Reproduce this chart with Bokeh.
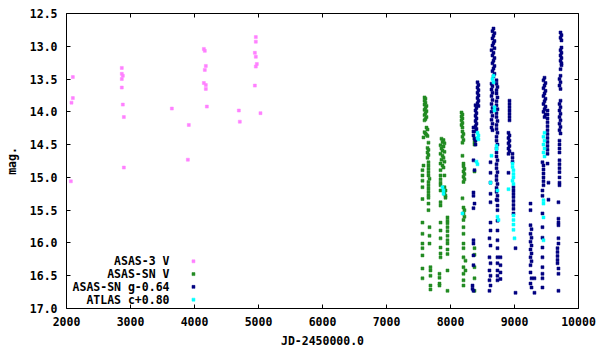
from bokeh.plotting import figure
from bokeh.models import Range1d, FixedTicker, LinearAxis, CustomJSTickFormatter
from bokeh.core.properties import value
from bokeh.embed import file_html
from bokeh.resources import INLINE

# ---------------- data (JD-2450000, mag) ----------------
asas3 = [(2099, 13.47), (2099, 13.79), (2078, 13.86), (2068, 15.06),
         (2864, 13.33), (2864, 13.42), (2880, 13.45), (2864, 13.50), (2864, 13.63),
         (2880, 13.89), (2896, 14.08), (2896, 14.85),
         (3646, 13.95), (3911, 14.20), (3896, 14.73),
         (4146, 13.04), (4161, 13.07), (4177, 13.30), (4161, 13.36), (4146, 13.56),
         (4177, 13.59), (4177, 13.65), (4193, 13.92),
         (4693, 13.98), (4708, 14.15),
         (4958, 12.86), (4958, 12.93), (4943, 13.10), (4958, 13.16), (4974, 13.27),
         (4958, 13.31), (4943, 13.60), (5031, 14.02)]

asassn_v = [
    # season 1
    (7594, 13.78), (7609, 13.80), (7594, 13.83), (7609, 13.86), (7594, 13.89), (7625, 13.91),
    (7609, 13.94), (7594, 13.97), (7625, 13.99), (7609, 14.02), (7594, 14.05), (7625, 14.08),
    (7609, 14.11), (7594, 14.13), (7625, 14.24), (7641, 14.27), (7594, 14.31), (7609, 14.33),
    (7625, 14.35), (7641, 14.37), (7578, 14.39), (7656, 14.47), (7641, 14.55), (7656, 14.58),
    (7641, 14.62), (7656, 14.66), (7641, 14.70), (7578, 14.82), (7656, 14.77), (7656, 14.82),
    (7656, 14.87), (7656, 14.92), (7656, 14.97), (7672, 15.02), (7656, 15.07), (7656, 15.12),
    (7656, 15.17), (7656, 15.22), (7656, 15.27), (7656, 15.31), (7562, 14.89), (7562, 14.97),
    (7562, 15.05), (7562, 15.15), (7562, 15.33), (7656, 15.40), (7656, 15.50), (7562, 15.69),
    (7562, 15.86), (7562, 16.01), (7562, 16.08), (7562, 16.19), (7672, 15.76), (7672, 15.89),
    (7672, 16.01), (7562, 16.39), (7562, 16.54), (7687, 16.37), (7687, 16.42), (7687, 16.50),
    (7687, 16.65), (7687, 16.71),
    # season 2
    (7859, 14.41), (7891, 14.43), (7875, 14.46), (7906, 14.48), (7844, 14.51), (7891, 14.53),
    (7859, 14.56), (7875, 14.59), (7906, 14.61), (7844, 14.64), (7875, 14.67), (7891, 14.70),
    (7859, 14.73), (7906, 14.76), (7844, 14.79), (7875, 14.82), (7891, 14.85), (7906, 15.15),
    (7922, 15.20), (7906, 15.25), (7922, 15.31), (7844, 14.89), (7844, 14.97), (7844, 15.03),
    (7844, 15.08), (7844, 15.12), (7844, 15.20), (7844, 15.38), (7844, 15.43), (7906, 14.97),
    (7922, 15.28), (7844, 15.69), (7844, 15.81), (7844, 15.93), (7844, 16.07), (7844, 16.16),
    (7844, 16.22), (7953, 15.61), (7953, 15.66), (7953, 15.70), (7953, 15.76), (7953, 15.82),
    (7953, 15.89), (7953, 15.96), (7953, 16.01), (7953, 16.10), (7953, 16.17), (7828, 16.47),
    (7828, 16.53), (7828, 16.62), (7828, 16.65), (7953, 16.42), (7953, 16.73),
    # season 3
    (8172, 14.01), (8187, 14.04), (8172, 14.07), (8187, 14.10), (8172, 14.13), (8187, 14.17),
    (8172, 14.20), (8187, 14.24), (8187, 14.30), (8203, 14.34), (8187, 14.38), (8203, 14.43),
    (8187, 14.47), (8187, 14.67), (8203, 14.79), (8203, 14.83), (8218, 14.87), (8203, 14.91),
    (8218, 14.95), (8203, 14.99), (8218, 15.03), (8203, 15.07), (8187, 15.32), (8203, 15.46),
    (8218, 15.50), (8203, 15.55), (8218, 15.60), (8203, 15.65), (8203, 15.76), (8203, 15.86),
    (8203, 16.01), (8203, 16.08), (8203, 16.22), (8203, 16.37), (8203, 16.47), (8203, 16.57),
    (8203, 16.65), (8234, 16.27), (8234, 16.42),
    # season 4
    (8375, 14.41), (8375, 14.46), (8375, 14.50), (8375, 14.91), (8375, 16.08), (8375, 16.18),
    (8375, 16.37), (8375, 16.54), (8375, 16.73)]

asassn_g = [
    # season A
    (8422, 13.55), (8437, 13.59), (8422, 13.63), (8437, 13.67), (8422, 13.71), (8437, 13.75),
    (8422, 13.79), (8437, 13.83), (8422, 13.87), (8437, 13.91), (8391, 13.90), (8406, 13.94),
    (8391, 13.98), (8406, 14.02), (8391, 14.06), (8406, 14.10), (8391, 14.14), (8406, 14.18),
    (8391, 14.22), (8406, 14.26), (8391, 14.30), (8359, 14.24), (8359, 14.30), (8359, 14.36),
    (8375, 14.41), (8391, 14.44), (8391, 14.50), (8359, 14.74), (8375, 14.89), (8359, 15.23),
    (8359, 15.28), (8375, 15.40), (8359, 15.47), (8359, 15.96), (8359, 16.01), (8359, 16.19),
    (8359, 16.34), (8344, 16.65), (8344, 16.70), (8359, 16.73),
    # season B
    (8672, 12.73), (8656, 12.77), (8687, 12.80), (8672, 12.84), (8656, 12.88), (8687, 12.92),
    (8672, 12.95), (8656, 12.99), (8687, 13.03), (8641, 13.06), (8672, 13.10), (8656, 13.14),
    (8687, 13.18), (8672, 13.22), (8656, 13.26), (8687, 13.30), (8672, 13.34), (8656, 13.38),
    (8687, 13.42), (8672, 13.46), (8641, 13.57), (8656, 13.61), (8641, 13.66), (8656, 13.71),
    (8641, 13.76), (8656, 13.82), (8641, 13.88), (8656, 13.94), (8641, 14.00), (8656, 14.06),
    (8641, 14.12), (8656, 14.18), (8641, 14.24), (8656, 14.28), (8719, 13.52), (8719, 13.57),
    (8734, 13.62), (8719, 13.67), (8719, 13.72), (8734, 13.78), (8719, 13.84), (8719, 13.90),
    (8734, 13.96), (8719, 14.02), (8719, 14.08), (8734, 14.14), (8719, 14.20), (8719, 14.26),
    (8734, 14.32), (8719, 14.38), (8719, 14.44), (8734, 14.50), (8719, 14.56), (8719, 14.62),
    (8719, 14.68), (8734, 14.74), (8719, 14.80), (8719, 14.86), (8734, 14.92), (8719, 14.98),
    (8719, 15.04), (8734, 15.10), (8719, 15.16), (8719, 15.22), (8734, 15.28), (8719, 15.34),
    (8625, 14.77), (8625, 14.93), (8625, 15.08), (8625, 15.25), (8625, 15.38), (8734, 15.35),
    (8734, 15.43), (8734, 15.50), (8734, 15.66), (8734, 15.81), (8734, 15.96), (8734, 16.08),
    (8734, 16.22), (8734, 16.31), (8734, 16.42), (8734, 16.50), (8734, 16.57), (8625, 15.69),
    (8625, 15.81), (8609, 15.93), (8625, 16.04), (8609, 16.22), (8625, 16.31), (8609, 16.42),
    (8625, 16.50), (8609, 16.57), (8625, 16.65), (8609, 16.73), (8781, 16.22), (8781, 16.34),
    (8781, 16.45), (8781, 16.55),
    # season C
    (8922, 13.83), (8922, 13.88), (8922, 13.93), (8922, 13.98), (8922, 14.03), (8922, 14.08),
    (8922, 14.13), (8906, 14.32), (8922, 14.36), (8906, 14.40), (8922, 14.44), (8906, 14.48),
    (8922, 14.52), (8906, 14.56), (8922, 14.60), (8906, 14.64), (8969, 14.64), (8969, 14.70),
    (8969, 14.76), (8906, 14.93), (8984, 15.15), (8984, 15.20), (8984, 15.25), (8984, 15.30),
    (8984, 15.36), (8984, 15.42), (8984, 15.48), (8984, 15.55), (9016, 16.08), (9016, 16.76),
    # season D
    (9250, 15.40), (9250, 15.50), (9250, 15.73), (9266, 15.79), (9250, 15.86), (9266, 15.92),
    (9250, 15.98), (9266, 16.04), (9250, 16.10), (9266, 16.16), (9250, 16.22), (9266, 16.28),
    (9250, 16.34), (9250, 16.45), (9266, 16.54), (9250, 16.62), (9266, 16.68), (9312, 16.54),
    (9312, 16.76),
    # season E
    (9469, 13.48), (9453, 13.52), (9484, 13.56), (9469, 13.60), (9453, 13.64), (9484, 13.68),
    (9469, 13.72), (9453, 13.76), (9484, 13.80), (9469, 13.84), (9453, 13.88), (9484, 13.92),
    (9469, 13.96), (9453, 14.00), (9484, 14.04), (9469, 14.08), (9516, 13.98), (9516, 14.04),
    (9516, 14.10), (9516, 14.16), (9516, 14.22), (9516, 14.28), (9516, 14.34), (9516, 14.40),
    (9516, 14.46), (9516, 14.52), (9516, 14.58), (9516, 14.64), (9437, 14.77), (9516, 14.79),
    (9531, 15.08), (9453, 14.82), (9453, 14.88), (9453, 14.94), (9453, 15.00), (9453, 15.06),
    (9453, 15.12), (9437, 15.20), (9437, 15.28), (9437, 15.55), (9437, 15.76), (9437, 15.92),
    (9437, 16.07), (9437, 16.22), (9437, 16.37), (9437, 16.47), (9437, 16.54), (9437, 16.68),
    (9531, 15.34),
    # season F
    (9719, 12.79), (9734, 12.83), (9719, 12.87), (9734, 12.91), (9734, 13.02), (9719, 13.06),
    (9734, 13.10), (9719, 13.14), (9734, 13.18), (9719, 13.22), (9734, 13.26), (9734, 13.29),
    (9719, 13.35), (9719, 13.45), (9703, 13.50), (9719, 13.55), (9703, 13.60), (9719, 13.65),
    (9719, 13.83), (9703, 13.88), (9719, 13.93), (9703, 13.98), (9719, 14.03), (9703, 14.08),
    (9719, 14.13), (9703, 14.18), (9719, 14.23), (9703, 14.28), (9719, 14.33), (9703, 14.44),
    (9703, 14.50), (9703, 14.56), (9703, 14.62), (9703, 14.74), (9703, 14.80), (9703, 14.86),
    (9703, 14.92), (9703, 15.00), (9703, 15.08), (9703, 15.12), (9687, 15.38), (9687, 15.63),
    (9687, 15.69), (9687, 15.73), (9687, 15.93), (9687, 16.01), (9672, 16.08), (9672, 16.14),
    (9672, 16.20), (9672, 16.26), (9672, 16.31), (9687, 16.39), (9687, 16.47), (9687, 16.73)]

atlas_c = [(7875, 15.15), (7891, 15.20), (7891, 15.25), (8187, 15.55),
           (8422, 14.32), (8437, 14.36), (8422, 14.40), (8437, 14.42), (8406, 14.76), (8422, 14.80),
           (8672, 13.45), (8656, 13.50), (8672, 13.55), (8687, 13.93), (8687, 13.98),
           (8719, 14.52), (8719, 14.57), (8641, 14.67), (8625, 15.08), (8734, 15.20),
           (8734, 15.60), (8750, 15.65),
           (8969, 14.79), (8969, 14.84), (8984, 14.89), (8984, 14.95), (8984, 15.00), (8969, 15.05),
           (8984, 15.10), (8906, 15.18), (8984, 15.58), (8984, 15.65), (8984, 15.72), (8984, 15.80),
           (9000, 15.93),
           (9469, 14.32), (9453, 14.38), (9469, 14.44), (9453, 14.50), (9469, 14.56), (9453, 14.62),
           (9469, 14.68), (9453, 15.35), (9453, 15.40), (9453, 15.61), (9453, 15.96)]

series_names = ["ASAS-3 V", "ASAS-SN V", "ASAS-SN g-0.64", "ATLAS c+0.80"]
series_colors = ["#ff80ff", "#228b22", "#000080", "#00ffff"]
x_ticks = [2000, 3000, 4000, 5000, 6000, 7000, 8000, 9000, 10000]
y_ticks = [12.5, 13.0, 13.5, 14.0, 14.5, 15.0, 15.5, 16.0, 16.5, 17.0]

# ---------------- figure ----------------
FONT = "DejaVu Sans Mono"
FS = "11.5px"

p = figure(width=600, height=350, output_backend="svg", toolbar_location=None,
           x_range=Range1d(2000, 10000), y_range=Range1d(17.0, 12.5),
           min_border_left=66, min_border_right=22, min_border_top=13, min_border_bottom=42,
           x_axis_label="JD-2450000.0", y_axis_label="mag.")
p.grid.visible = False
p.outline_line_color = "black"
p.outline_line_width = 1
p.background_fill_color = "white"
p.border_fill_color = "white"

fmt_y = CustomJSTickFormatter(code="return tick.toFixed(1);")
for ax in p.xaxis + p.yaxis:
    ax.axis_line_color = None
    ax.major_tick_in = 4
    ax.major_tick_out = 0
    ax.minor_tick_line_color = None
    ax.major_tick_line_color = "black"
    ax.major_label_text_font = FONT
    ax.major_label_text_font_size = FS
    ax.major_label_text_font_style = "bold"
    ax.major_label_text_color = "black"
    ax.axis_label_text_font = FONT
    ax.axis_label_text_font_size = FS
    ax.axis_label_text_font_style = "bold"
    ax.axis_label_text_color = "black"
p.xaxis.ticker = FixedTicker(ticks=x_ticks)
p.yaxis.ticker = FixedTicker(ticks=y_ticks)
p.yaxis.formatter = fmt_y
p.xaxis.major_label_standoff = 8
p.xaxis.axis_label_standoff = 5
p.yaxis.major_label_standoff = 9
p.yaxis.axis_label_standoff = 8

# mirrored ticks (top / right), no labels
blank = CustomJSTickFormatter(code="return '';")
top = LinearAxis(ticker=FixedTicker(ticks=x_ticks), formatter=blank, axis_line_color=None,
                 major_tick_in=4, major_tick_out=0, minor_tick_line_color=None,
                 major_label_standoff=0)
right = LinearAxis(ticker=FixedTicker(ticks=y_ticks), formatter=blank, axis_line_color=None,
                   major_tick_in=4, major_tick_out=0, minor_tick_line_color=None,
                   major_label_standoff=0)
p.add_layout(top, "above")
p.add_layout(right, "right")

# data
all_series = [asas3, asassn_v, asassn_g, atlas_c]
for data, col in zip(all_series, series_colors):
    xs = [d[0] for d in data]
    ys = [d[1] for d in data]
    p.scatter(xs, ys, marker="square", size=3, fill_color=col, line_color=col, line_width=0.5)

# key (gnuplot style: label then sample)
key_text_x = 3609
key_mark_x = 3984
key_rows = [16.28, 16.475, 16.67, 16.865]
p.text(x=[key_text_x] * 4, y=key_rows, text=series_names, text_align="right",
       text_baseline="middle", text_font=value(FONT), text_font_size=FS,
       text_font_style="bold", text_color="black")
p.scatter(x=[key_mark_x] * 4, y=key_rows, marker="square", size=3,
          fill_color=series_colors, line_color=series_colors, line_width=0.5)

open("out.html", "w").write(file_html(p, INLINE))
